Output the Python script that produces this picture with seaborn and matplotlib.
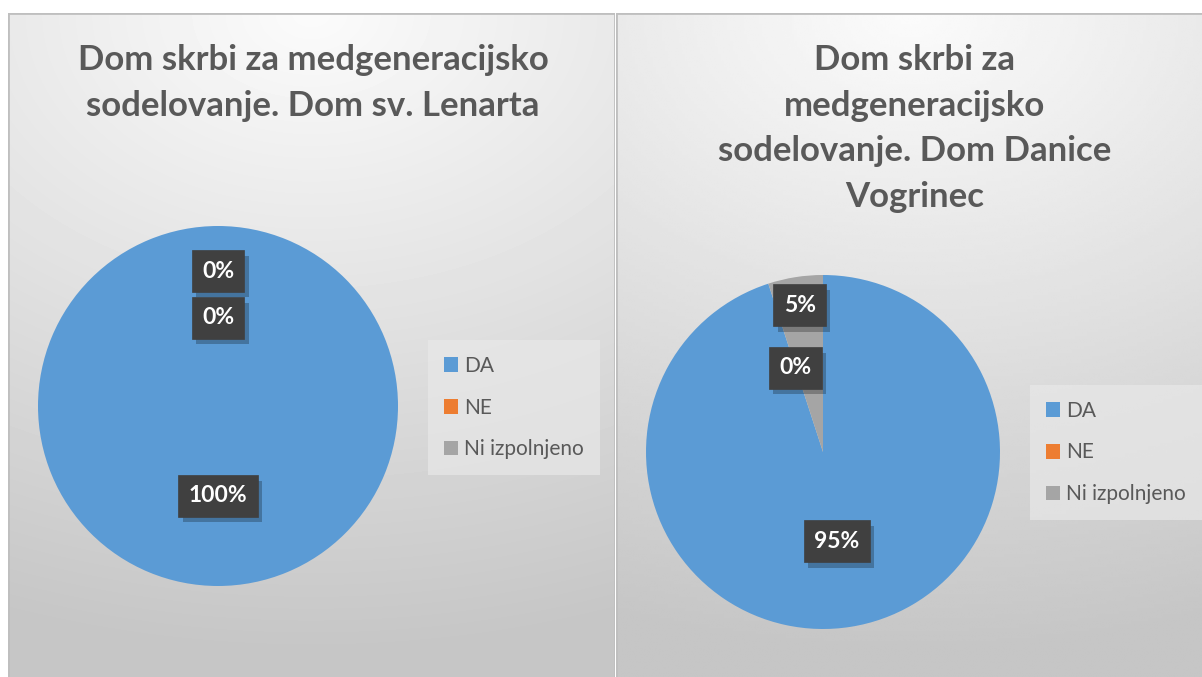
import matplotlib.pyplot as plt
import matplotlib.patheffects as pe
import numpy as np
import seaborn as sns
from matplotlib.patches import Rectangle

# data
categories = ["DA", "NE", "Ni izpolnjeno"]
titles = [
    "Dom skrbi za medgeneracijsko\nsodelovanje. Dom sv. Lenarta",
    "Dom skrbi za\nmedgeneracijsko\nsodelovanje. Dom Danice\nVogrinec",
]
values_lenart = [100, 0, 0]
values_vogrinec = [95, 0, 5]

colors = sns.color_palette(["#5b9bd5", "#ed7d31", "#a5a5a5"])
TEXT = "#595959"
FONT = "Lato"

sns.set_theme(style="white")
plt.rcParams["font.family"] = [FONT, "DejaVu Sans"]

W, H = 1202, 677
fig = plt.figure(figsize=(W / 100, H / 100), dpi=100)
fig.patch.set_facecolor("white")


def px(x0, y0, w, h):
    # pixel box (top-left origin) -> figure fraction rect
    return [x0 / W, 1 - (y0 + h) / H, w / W, h / H]


def panel(x0, y0, w, h):
    bg = fig.add_axes(px(x0, y0, w, h))
    yy, xx = np.mgrid[0:1:200j, 0:1:200j]
    d = np.sqrt(((xx - 0.5) * w / 900) ** 2 + (yy * h / 640) ** 2)
    img = 0.985 - 0.21 * np.clip(d, 0, 1)
    bg.imshow(img, cmap="gray", vmin=0, vmax=1, aspect="auto",
              extent=[0, 1, 1, 0], interpolation="bilinear")
    bg.add_patch(Rectangle((0, 0), 1, 1, transform=bg.transAxes, fill=False,
                           edgecolor="#bfbfbf", lw=2))
    bg.set_xlim(0, 1)
    bg.set_ylim(1, 0)
    bg.axis("off")
    return bg


def pie(values, cx, cy, r, label_r, title, tx, legend_xy):
    ax = fig.add_axes(px(cx - r, cy - r, 2 * r, 2 * r))
    ax.pie(values, colors=colors, startangle=90, counterclock=False,
           radius=1, wedgeprops=dict(linewidth=0))
    ax.set_xlim(-1, 1)
    ax.set_ylim(-1, 1)
    ax.set_aspect("equal")
    ax.axis("off")

    total = sum(values)
    start = 0.0
    for v, lr in zip(values, label_r):
        frac = v / total
        mid = np.deg2rad(90 - 360 * (start + frac / 2))
        start += frac
        t = ax.text(lr * np.cos(mid), lr * np.sin(mid), f"{v / total:.0%}",
                    ha="center", va="center", color="white", fontsize=16.5,
                    fontweight="bold",
                    bbox=dict(boxstyle="square,pad=0.45", facecolor="#404040",
                              edgecolor="#404040", lw=0.5))
        t.get_bbox_patch().set_path_effects(
            [pe.SimplePatchShadow(offset=(3, -4), shadow_rgbFace="#000000", alpha=0.25),
             pe.Normal()])

    fig.text(tx / W, 1 - 44 / H, title, ha="center", va="top", color=TEXT,
             fontsize=25, fontweight="bold", linespacing=1.52)

    handles = [Rectangle((0, 0), 1, 1, facecolor=c, edgecolor="none") for c in colors]
    leg = fig.legend(handles, categories, loc="upper left",
                     bbox_to_anchor=(legend_xy[0] / W, 1 - legend_xy[1] / H),
                     frameon=True, fontsize=15, handlelength=0.7, handleheight=0.7,
                     handletextpad=0.3, labelspacing=1.05, borderpad=0.75,
                     borderaxespad=0, fancybox=False)
    leg.get_frame().set_facecolor("#e8e8e8")
    leg.get_frame().set_edgecolor("none")
    leg.get_frame().set_alpha(0.7)
    for txt in leg.get_texts():
        txt.set_color(TEXT)


panel(8, 13, 607, 670)
panel(616, 13, 590, 670)

pie(values_lenart, 218, 406, 180, [0.5, 0.75, 0.49], titles[0], 313, (428, 340))
pie(values_vogrinec, 823, 452, 177, [0.51, 0.5, 0.84], titles[1], 915, (1030, 385))

fig.savefig("out.png", dpi=100)
